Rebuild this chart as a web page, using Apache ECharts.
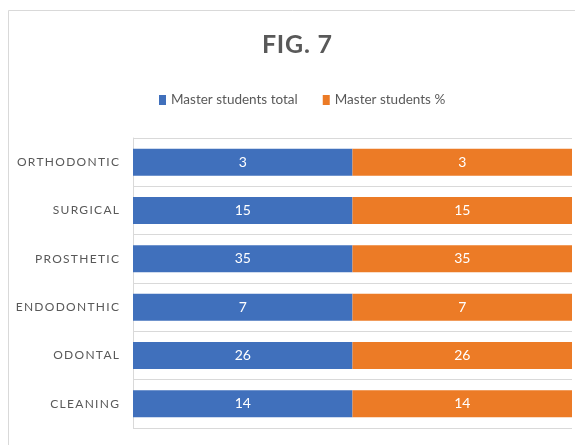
<!DOCTYPE html>
<html>
<head>
<meta charset="utf-8">
<script src="https://cdn.jsdelivr.net/npm/echarts@6/dist/echarts.min.js"></script>
<style>html,body{margin:0;padding:0;background:#fff;}#c{width:575px;height:445px;}</style>
</head>
<body>
<div id="c"></div>
<script>
// ---- data ----
const categories = ['ORTHODONTIC', 'SURGICAL', 'PROSTHETIC', 'ENDODONTHIC', 'ODONTAL', 'CLEANING'];
const masterTotal = [3, 15, 35, 7, 26, 14];
const masterPct = [3, 15, 35, 7, 26, 14];
const seriesNames = ['Master students total', 'Master students %'];
const titleText = 'FIG. 7';

// letter spacing for category labels and title (canvas text stays real text)
const spaced = {};
categories.forEach(c => spaced[c] = 1.3);
spaced[titleText] = 0.8;
const origFill = CanvasRenderingContext2D.prototype.fillText;
CanvasRenderingContext2D.prototype.fillText = function (t, x, y, w) {
  if (Object.prototype.hasOwnProperty.call(spaced, t) && 'letterSpacing' in this) {
    const f = this.font;
    const s = spaced[t];
    this.letterSpacing = s + 'px';
    this.font = f;
    let dx = 0;
    if (this.textAlign === 'right' || this.textAlign === 'end') dx = s;
    else if (this.textAlign === 'center') dx = s / 2;
    const r = w === undefined ? origFill.call(this, t, x + dx, y) : origFill.call(this, t, x + dx, y, w);
    this.letterSpacing = '0px';
    this.font = f;
    return r;
  }
  if ('letterSpacing' in this && this.letterSpacing !== '0px') { this.letterSpacing = '0px'; this.font = this.font; }
  return w === undefined ? origFill.call(this, t, x, y) : origFill.call(this, t, x, y, w);
};

const rowSum = masterTotal.map((v, i) => v + masterPct[i]);
const share1 = masterTotal.map((v, i) => v / rowSum[i] * 100);
const share2 = masterPct.map((v, i) => v / rowSum[i] * 100);

const FONT = "Lato, 'Open Sans', sans-serif";
const chart = echarts.init(document.getElementById('c'), null, {renderer: 'canvas'});
chart.setOption({
  animation: false,
  backgroundColor: '#ffffff',
  graphic: [{
    type: 'rect',
    shape: {x: 8.5, y: 10.5, width: 700, height: 600},
    style: {fill: 'none', stroke: '#d9d9d9', lineWidth: 1},
    silent: true, z: -10
  }],
  title: {
    text: titleText,
    left: 297, top: 32, textAlign: 'center', padding: 0,
    textStyle: {fontFamily: FONT, fontSize: 25, fontWeight: 'bold', color: '#595959'}
  },
  legend: {
    data: seriesNames,
    left: 159, top: 93, padding: 0,
    itemWidth: 7, itemHeight: 10, itemGap: 25,
    icon: 'rect',
    textStyle: {fontFamily: FONT, fontSize: 13.5, color: '#595959', padding: [0, 0, 0, 0]}
  },
  grid: {left: 133, right: 3, top: 138, bottom: 17, containLabel: false},
  xAxis: {
    type: 'value', min: 0, max: 100,
    axisLabel: {show: false}, axisLine: {show: false}, axisTick: {show: false},
    splitLine: {show: false}
  },
  yAxis: {
    type: 'category', data: categories, inverse: true,
    axisLine: {show: true, lineStyle: {color: '#d9d9d9', width: 1}},
    axisTick: {show: false},
    splitLine: {show: true, lineStyle: {color: '#d9d9d9', width: 1}},
    axisLabel: {fontFamily: FONT, fontSize: 12, color: '#595959', margin: 14}
  },
  series: [
    {
      name: seriesNames[0], type: 'bar', stack: 's', data: share1, barWidth: 27,
      itemStyle: {color: '#4070BC'},
      label: {show: true, position: 'inside', color: '#ffffff', fontFamily: FONT, fontSize: 14,
        formatter: p => String(masterTotal[p.dataIndex])}
    },
    {
      name: seriesNames[1], type: 'bar', stack: 's', data: share2, barWidth: 27,
      itemStyle: {color: '#EC7B26'},
      label: {show: true, position: 'inside', color: '#ffffff', fontFamily: FONT, fontSize: 14,
        formatter: p => String(masterPct[p.dataIndex])}
    }
  ]
});
</script>
</body>
</html>
